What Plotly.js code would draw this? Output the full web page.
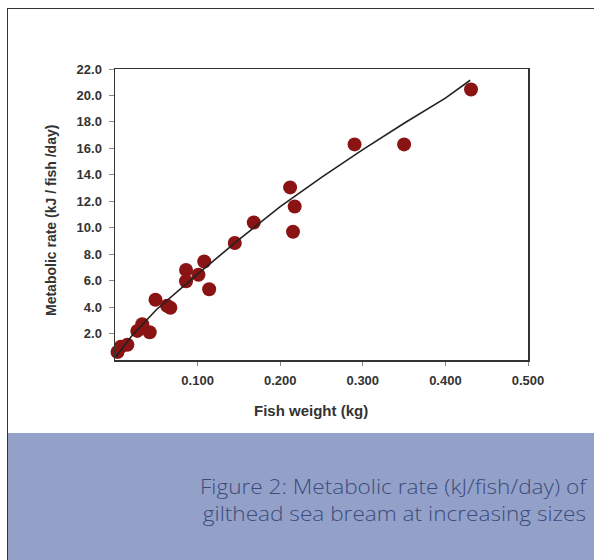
<!DOCTYPE html>
<html>
<head>
<meta charset="utf-8">
<script src="https://cdn.plot.ly/plotly-3.0.1.min.js"></script>
<style>
  html, body { margin: 0; padding: 0; background: #ffffff; }
  #wrap { position: relative; width: 594px; height: 560px; overflow: hidden; background: #ffffff; }
  #frame { position: absolute; left: 7px; top: 8px; width: 600px; height: 600px; border: 1.5px solid #333333; box-sizing: border-box; }
  #band { position: absolute; left: 8px; top: 433px; width: 600px; height: 140px; background: #93a1c9; }
  .cap { position: absolute; right: 8px; width: 480px; height: 27px; text-align: right;
         font-family: "Open Sans", Lato, sans-serif; font-weight: 300; font-size: 20px;
         line-height: 27.3px; color: #3c4b7c; white-space: nowrap;
         transform: scaleX(1.13); transform-origin: right center; }
  #cap1 { top: 472.5px; }
  #cap2 { top: 500px; }
  #chart { position: absolute; left: 0; top: 0; width: 594px; height: 560px; }
</style>
</head>
<body>
<div id="wrap">
  <div id="frame"></div>
  <div id="band"></div>
  <div id="cap1" class="cap">Figure 2: Metabolic rate (kJ/fish/day) of</div>
  <div id="cap2" class="cap">gilthead sea bream at increasing sizes</div>
  <div id="chart"></div>
</div>
<script>
// Observed points: fish weight (kg) and metabolic rate (kJ/fish/day)
const fishWeight = [0.003, 0.007, 0.015, 0.027, 0.033, 0.042, 0.049, 0.063, 0.067,
                    0.086, 0.086, 0.101, 0.108, 0.114, 0.145, 0.168, 0.212, 0.2175,
                    0.2155, 0.290, 0.350, 0.431];
const metabolicRate = [0.6, 1.0, 1.15, 2.2, 2.7, 2.1, 4.55, 4.1, 3.95,
                       6.8, 5.95, 6.45, 7.45, 5.35, 8.85, 10.4, 13.05, 11.6,
                       9.7, 16.3, 16.3, 20.45];
// Fitted curve
const fitWeight = [0.001, 0.01, 0.02, 0.05, 0.10, 0.15, 0.20, 0.25, 0.30, 0.35, 0.40, 0.430];
const fitRate   = [0.25, 1.0, 1.8, 3.8, 6.5, 9.1, 11.6, 13.8, 15.9, 17.9, 19.8, 21.15];
// Tick labels
const xTicks = [0.1, 0.2, 0.3, 0.4, 0.5];
const xTickText = ["0.100", "0.200", "0.300", "0.400", "0.500"];
const yTicks = [2, 4, 6, 8, 10, 12, 14, 16, 18, 20, 22];
const yTickText = ["2.0", "4.0", "6.0", "8.0", "10.0", "12.0", "14.0", "16.0", "18.0", "20.0", "22.0"];
const xTitle = 'Fish weight (kg)';
const yTitle = 'Metabolic rate (kJ / fish /day)';

const traces = [
  {
    x: fishWeight, y: metabolicRate, type: 'scatter', mode: 'markers',
    marker: { size: 14, color: '#8a1414', line: { width: 0 } },
    hoverinfo: 'x+y', cliponaxis: false
  },
  {
    x: fitWeight, y: fitRate, type: 'scatter', mode: 'lines',
    line: { color: '#222222', width: 1.6 },
    hoverinfo: 'skip'
  }
];

const boldFont = 'Liberation Sans, Arial, sans-serif';
const tickFont = { family: boldFont, size: 13, color: '#333333', weight: 'bold' };

const layout = {
  width: 594, height: 560,
  margin: { l: 115, r: 66, t: 69, b: 200, pad: 0 },
  paper_bgcolor: 'rgba(0,0,0,0)',
  plot_bgcolor: '#ffffff',
  showlegend: false,
  xaxis: {
    range: [0, 0.5], tickvals: xTicks, ticktext: xTickText,
    ticks: 'outside', ticklen: 4, tickcolor: '#888888', tickwidth: 1,
    ticklabelstandoff: 4,
    showline: true, linecolor: '#333333', linewidth: 1.5, mirror: true,
    showgrid: false, zeroline: false, tickfont: tickFont
  },
  yaxis: {
    range: [0, 22], tickvals: yTicks, ticktext: yTickText,
    ticks: 'outside', ticklen: 5, tickcolor: '#888888', tickwidth: 1,
    ticklabelstandoff: 4,
    showline: true, linecolor: '#333333', linewidth: 1.5, mirror: true,
    showgrid: false, zeroline: false, tickfont: tickFont
  },
  annotations: [
    { text: xTitle, xref: 'paper', yref: 'paper', x: (310.5 - 115) / 413, y: -(410 - 360) / 291,
      xanchor: 'center', yanchor: 'middle', showarrow: false,
      font: { family: boldFont, size: 15, color: '#333333', weight: 'bold' } },
    { text: yTitle, xref: 'paper', yref: 'paper', x: (51 - 115) / 413, y: (360 - 221) / 291,
      xanchor: 'center', yanchor: 'middle', showarrow: false, textangle: -90,
      font: { family: boldFont, size: 14, color: '#333333', weight: 'bold' } }
  ]
};

Plotly.newPlot('chart', traces, layout, { staticPlot: true, displayModeBar: false });
</script>
</body>
</html>
